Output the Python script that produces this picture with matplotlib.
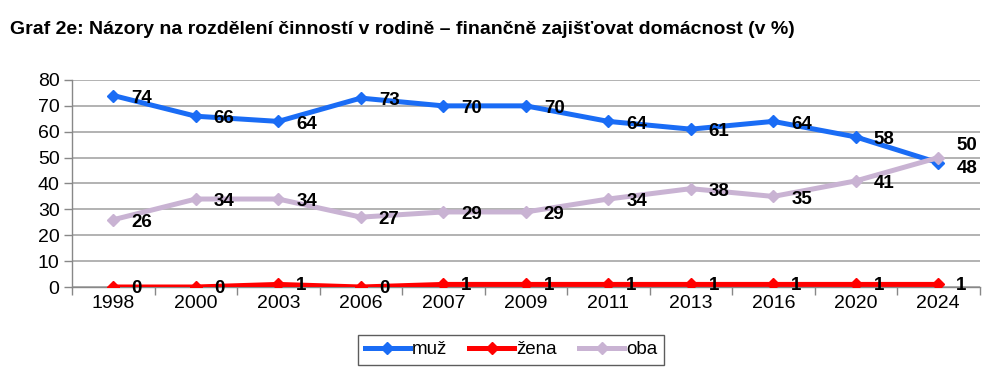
import matplotlib
matplotlib.use("Agg")
import matplotlib.pyplot as plt
import numpy as np

years = ["1998", "2000", "2003", "2006", "2007", "2009", "2011", "2013", "2016", "2020", "2024"]
muz = [74, 66, 64, 73, 70, 70, 64, 61, 64, 58, 48]
zena = [0, 0, 1, 0, 1, 1, 1, 1, 1, 1, 1]
oba = [26, 34, 34, 27, 29, 29, 34, 38, 35, 41, 50]
series_names = ["muž", "žena", "oba"]
colors = ["#1a6cf5", "#ff0000", "#c9b3d3"]

plt.rcParams['font.family'] = ['Liberation Sans', 'DejaVu Sans']

fig = plt.figure(figsize=(10.06, 3.84), dpi=100)
ax = fig.add_axes([0.0716, 0.2526, 0.9021, 0.5391])

x = np.arange(len(years))
lines = []
for vals, name, c in zip([muz, zena, oba], series_names, colors):
    ln, = ax.plot(x, vals, color=c, lw=3.6, marker='D', markersize=6, label=name, zorder=3)
    lines.append(ln)

# data labels
for i, v in enumerate(muz):
    dy = -4 if i == len(x) - 1 else -2
    ax.annotate(str(v), (x[i], v), xytext=(13, dy), textcoords='offset points',
                ha='left', va='center', fontsize=13.5, fontweight='bold', zorder=4)
for i, v in enumerate(zena):
    ax.annotate(str(v), (x[i], v), xytext=(13, -1), textcoords='offset points',
                ha='left', va='center', fontsize=13.5, fontweight='bold', zorder=4)
for i, v in enumerate(oba):
    dy = 9 if i == len(x) - 1 else -2
    ax.annotate(str(v), (x[i], v), xytext=(13, dy), textcoords='offset points',
                ha='left', va='center', fontsize=13.5, fontweight='bold', zorder=4)

ax.set_xlim(-0.5, len(years) - 0.5)
ax.set_ylim(0, 80)
ax.set_yticks(range(0, 81, 10))
ax.set_xticks(x)
ax.set_xticklabels(years)
ax.set_xticks(np.arange(-0.5, len(years), 1), minor=True)
ax.tick_params(axis='x', which='major', length=0, labelsize=14, pad=6)
ax.tick_params(axis='x', which='minor', length=6, color='#888888', width=1)
ax.tick_params(axis='y', labelsize=14, length=6, color='#888888', width=1, pad=3)
ax.grid(axis='y', color='#a6a6a6', lw=1.2, zorder=0)
ax.set_axisbelow(True)
for s in ['top', 'right']:
    ax.spines[s].set_visible(False)
ax.spines['left'].set_color('#888888')
ax.spines['bottom'].set_color('#888888')
ax.spines['left'].set_linewidth(1)
ax.spines['bottom'].set_linewidth(1)

fig.text(0.01, 0.922, "Graf 2e: Názory na rozdělení činností v rodině – finančně zajišťovat domácnost (v %)",
         fontsize=14, fontweight='bold', ha='left', va='center')

leg = fig.legend(handles=lines, loc='center', bbox_to_anchor=(0.508, 0.089), ncol=3,
                 fontsize=13.5, frameon=True, fancybox=False, edgecolor='#333333',
                 handlelength=2.4, handletextpad=0.1, columnspacing=1.2, borderpad=0.35)
leg.get_frame().set_linewidth(1)

fig.savefig("out.png", dpi=100)
